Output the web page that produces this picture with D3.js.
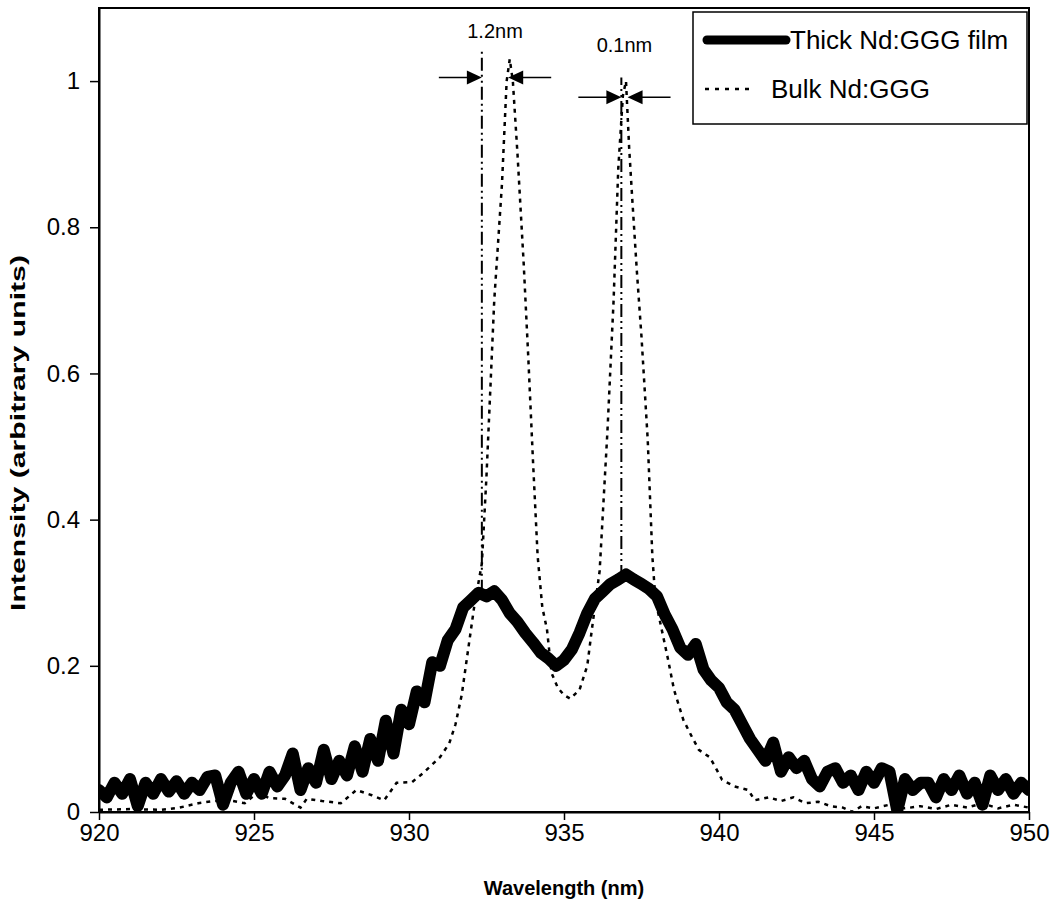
<!DOCTYPE html>
<html>
<head>
<meta charset="utf-8">
<script src="https://cdn.jsdelivr.net/npm/d3@7"></script>
<style>
  body { margin: 0; background: #fff; }
  svg text { font-family: "Liberation Sans", Arial, sans-serif; }
</style>
</head>
<body>
<svg id="drawing_region"></svg>
<script>
// thick film spectrum, sampled every 0.25 nm from 920 to 950
const filmWavelength = d3.range(920, 950.001, 0.25);
const filmIntensity = [
  0.030, 0.020, 0.040, 0.025,
  0.045, 0.008, 0.040, 0.025,
  0.045, 0.028, 0.042, 0.025,
  0.040, 0.030, 0.048, 0.050,
  0.010, 0.040, 0.055, 0.025,
  0.045, 0.025, 0.055, 0.035,
  0.050, 0.080, 0.030, 0.060,
  0.040, 0.085, 0.045, 0.070,
  0.050, 0.090, 0.055, 0.100,
  0.070, 0.125, 0.080, 0.140,
  0.120, 0.165, 0.150, 0.205,
  0.200, 0.235, 0.250, 0.280,
  0.290, 0.300, 0.295, 0.302,
  0.290, 0.272, 0.260, 0.245,
  0.232, 0.218, 0.210, 0.200,
  0.208, 0.222, 0.245, 0.272,
  0.292, 0.302, 0.312, 0.318,
  0.325, 0.318, 0.312, 0.305,
  0.295, 0.270, 0.250, 0.225,
  0.215, 0.230, 0.195, 0.180,
  0.170, 0.150, 0.140, 0.120,
  0.100, 0.085, 0.070, 0.095,
  0.055, 0.075, 0.060, 0.070,
  0.045, 0.035, 0.055, 0.060,
  0.040, 0.050, 0.030, 0.055,
  0.040, 0.060, 0.055, 0.002,
  0.045, 0.030, 0.040, 0.040,
  0.020, 0.045, 0.030, 0.050,
  0.025, 0.040, 0.010, 0.050,
  0.030, 0.045, 0.025, 0.040,
  0.030
];

// bulk crystal spectrum
const bulkWavelength = [
  920.0, 921.0, 922.0, 922.6, 923.2, 923.7, 924.2, 924.7, 925.1, 925.5,
  926.0, 926.5, 926.7, 927.2, 927.8, 928.3, 928.8, 929.2, 929.6, 930.1,
  930.45, 931.0, 931.3, 931.5, 931.7, 931.9, 932.1, 932.35, 932.5, 932.75,
  933.0, 933.15, 933.25, 933.35, 933.5, 933.7, 933.85, 934.0, 934.15, 934.3,
  934.45, 934.6, 934.8, 935.0, 935.2, 935.5, 935.75, 935.9, 936.15, 936.4,
  936.6, 936.75, 936.9, 937.0, 937.1, 937.2, 937.35, 937.5, 937.7, 937.85,
  937.95, 938.15, 938.35, 938.55, 938.85, 939.1, 939.35, 939.7, 939.9, 940.1,
  940.5, 940.95, 941.15, 941.6, 942.0, 942.4, 942.8, 943.2, 943.6, 944.0,
  944.3, 944.6, 945.0, 945.5, 946.0, 946.5, 947.0, 947.5, 948.0, 948.5,
  949.0, 949.5, 950.0
];
const bulkIntensity = [
  0.003, 0.004, 0.003, 0.006, 0.012, 0.015, 0.016, 0.012, 0.026, 0.019,
  0.018, 0.006, 0.018, 0.015, 0.012, 0.030, 0.023, 0.016, 0.040, 0.041,
  0.053, 0.075, 0.094, 0.120, 0.160, 0.220, 0.280, 0.340, 0.460, 0.700,
  0.860, 1.000, 1.030, 1.000, 0.900, 0.750, 0.620, 0.480, 0.350, 0.280,
  0.250, 0.190, 0.170, 0.160, 0.155, 0.167, 0.200, 0.250, 0.330, 0.520,
  0.700, 0.880, 0.980, 1.000, 0.910, 0.840, 0.740, 0.650, 0.510, 0.350,
  0.290, 0.250, 0.210, 0.167, 0.126, 0.105, 0.085, 0.075, 0.060, 0.044,
  0.035, 0.030, 0.016, 0.020, 0.015, 0.020, 0.012, 0.014, 0.008, 0.006,
  0.000, 0.008, 0.005, 0.010, 0.005, 0.008, 0.004, 0.010, 0.006, 0.012,
  0.005, 0.010, 0.006
];

// narrow lasing lines of the film (dash-dot)
const laserWavelength = [932.35, 936.85];
const laserTop = [1.04, 1.005];
const laserFoot = [0.30, 0.32];

// linewidth markers
const gapLabel = ['1.2nm', '0.1nm'];
const gapFrom = [932.35, 936.85];
const gapTo = [933.2, 937.05];
const gapArrowLevel = [1.005, 0.978];
const gapLabelLevel = [1.068, 1.049];

const xTicks = [920, 925, 930, 935, 940, 945, 950];
const yTicks = [0, 0.2, 0.4, 0.6, 0.8, 1];
const seriesNames = ['Thick Nd:GGG film', 'Bulk Nd:GGG'];

const config = {
  parent: '#drawing_region',
  width: 1057,
  height: 918,
  margin: {top: 8, right: 28, bottom: 106, left: 99}
};

const svg = d3.select(config.parent)
  .attr('width', config.width)
  .attr('height', config.height);

const inner_width = config.width - config.margin.left - config.margin.right;
const inner_height = config.height - config.margin.top - config.margin.bottom;

const chart = svg.append('g')
  .attr('transform', `translate(${config.margin.left}, ${config.margin.top})`);

const xscale = d3.scaleLinear().domain([920, 950]).range([0, inner_width]);
const yscale = d3.scaleLinear().domain([0, 1.1]).range([inner_height, 0]);

chart.append('clipPath').attr('id', 'plot-clip')
  .append('rect')
  .attr('width', inner_width)
  .attr('height', inner_height);

const plot = chart.append('g').attr('clip-path', 'url(#plot-clip)');

// lasing lines
laserWavelength.forEach((w, i) => {
  plot.append('line')
    .attr('x1', xscale(w)).attr('x2', xscale(w))
    .attr('y1', yscale(laserFoot[i])).attr('y2', yscale(laserTop[i]))
    .attr('stroke', 'black')
    .attr('stroke-width', 2)
    .attr('stroke-dasharray', '13,4,2,4,2,4');
});

const bulkData = bulkWavelength.map((w, i) => ({x: w, y: bulkIntensity[i]}));
const filmData = filmWavelength.map((w, i) => ({x: w, y: filmIntensity[i]}));

const line = d3.line()
  .x(d => xscale(d.x))
  .y(d => yscale(d.y));

plot.append('path')
  .attr('d', line(bulkData))
  .attr('fill', 'none')
  .attr('stroke', 'black')
  .attr('stroke-width', 2.5)
  .attr('stroke-dasharray', '4,5');

plot.append('path')
  .attr('d', line(filmData))
  .attr('fill', 'none')
  .attr('stroke', 'black')
  .attr('stroke-width', 12)
  .attr('stroke-linejoin', 'round')
  .attr('stroke-linecap', 'round');

// axes
const xaxis = d3.axisBottom(xscale)
  .tickValues(xTicks)
  .tickSize(8)
  .tickPadding(4)
  .tickSizeOuter(0);
const yaxis = d3.axisLeft(yscale)
  .tickValues(yTicks)
  .tickSize(9)
  .tickPadding(10)
  .tickFormat(d => String(d))
  .tickSizeOuter(0);

const xaxis_group = chart.append('g')
  .attr('transform', `translate(0, ${inner_height})`)
  .call(xaxis);
const yaxis_group = chart.append('g').call(yaxis);

[xaxis_group, yaxis_group].forEach(g => {
  g.selectAll('text')
    .attr('font-family', '"Liberation Sans", Arial, sans-serif')
    .attr('font-size', 24)
    .attr('fill', 'black');
  g.selectAll('line').attr('stroke', 'black').attr('stroke-width', 1.5);
  g.select('.domain').attr('stroke', 'black').attr('stroke-width', 2);
});

chart.append('rect')
  .attr('width', inner_width)
  .attr('height', inner_height)
  .attr('fill', 'none')
  .attr('stroke', 'black')
  .attr('stroke-width', 2);

// linewidth arrows and labels
const arrow = (g, tipX, tipY, dir) => {
  // dir = 1 points right, -1 points left
  g.append('line')
    .attr('x1', tipX - dir * 43).attr('x2', tipX - dir * 10)
    .attr('y1', tipY).attr('y2', tipY)
    .attr('stroke', 'black').attr('stroke-width', 1.5);
  g.append('path')
    .attr('d', `M${tipX},${tipY} L${tipX - dir * 15},${tipY - 7} L${tipX - dir * 15},${tipY + 7} Z`)
    .attr('fill', 'black');
};

gapLabel.forEach((lab, i) => {
  const ay = yscale(gapArrowLevel[i]);
  arrow(chart, xscale(gapFrom[i]), ay, 1);
  arrow(chart, xscale(gapTo[i]), ay, -1);
  chart.append('text')
    .attr('x', xscale((gapFrom[i] + gapTo[i]) / 2))
    .attr('y', yscale(gapLabelLevel[i]))
    .attr('dy', '0.35em')
    .attr('text-anchor', 'middle')
    .attr('font-size', 20)
    .text(lab);
});

// axis titles
svg.append('text')
  .attr('x', config.margin.left + inner_width / 2)
  .attr('y', 895)
  .attr('text-anchor', 'middle')
  .attr('font-size', 20)
  .attr('font-weight', 'bold')
  .text('Wavelength (nm)');

svg.append('text')
  .attr('transform', 'translate(25, 433) rotate(-90)')
  .attr('text-anchor', 'middle')
  .attr('font-size', 20)
  .attr('font-weight', 'bold')
  .attr('textLength', 356)
  .attr('lengthAdjust', 'spacingAndGlyphs')
  .text('Intensity (arbitrary units)');

// legend
const legend = svg.append('g').attr('transform', 'translate(693, 12)');
legend.append('rect')
  .attr('width', 334)
  .attr('height', 112)
  .attr('fill', 'white')
  .attr('stroke', 'black')
  .attr('stroke-width', 1.5);
legend.append('line')
  .attr('x1', 14).attr('x2', 93).attr('y1', 28).attr('y2', 28)
  .attr('stroke', 'black').attr('stroke-width', 9).attr('stroke-linecap', 'round');
legend.append('line')
  .attr('x1', 12).attr('x2', 62).attr('y1', 77).attr('y2', 77)
  .attr('stroke', 'black').attr('stroke-width', 2.5).attr('stroke-dasharray', '4,6');
legend.append('text')
  .attr('x', 97).attr('y', 28).attr('dy', '0.35em')
  .attr('font-size', 26)
  .text(seriesNames[0]);
legend.append('text')
  .attr('x', 78).attr('y', 77).attr('dy', '0.35em')
  .attr('font-size', 26)
  .text(seriesNames[1]);
</script>
</body>
</html>
